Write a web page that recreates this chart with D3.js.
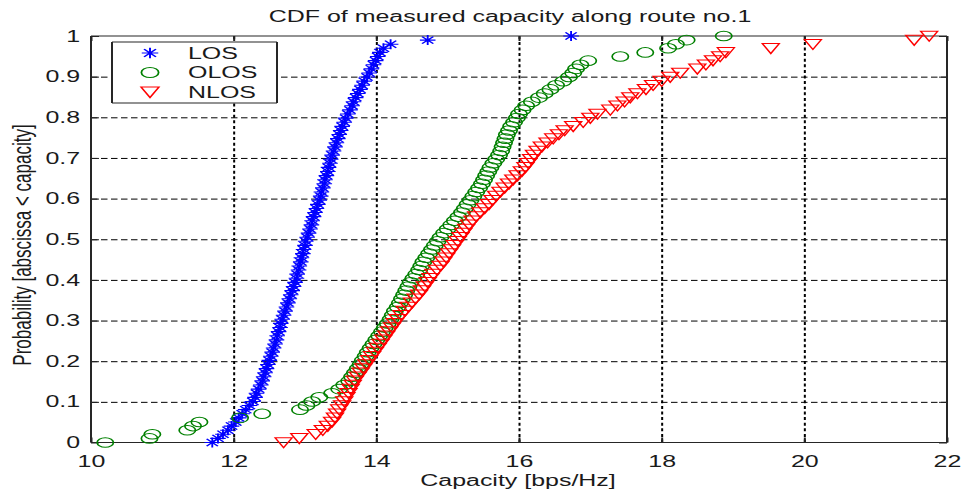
<!DOCTYPE html>
<html>
<head>
<meta charset="utf-8">
<script src="https://cdn.jsdelivr.net/npm/d3@7"></script>
<style>
  html, body { margin: 0; padding: 0; background: #fff; }
  svg { display: block; }
  text { font-family: "Liberation Sans", Arial, Helvetica, sans-serif; fill: #1a1a1a; }
</style>
</head>
<body>
<svg id="chart" width="961" height="493"></svg>
<script>
// ---------- data (capacity values in bps/Hz, sorted; CDF rank gives probability) ----------
const seriesNames = ["LOS", "OLOS", "NLOS"];

const losCapacity = [
  11.70, 11.78, 11.85, 11.92, 11.97, 12.03, 12.07, 12.12, 12.17, 12.22,
  12.27, 12.30, 12.32, 12.35, 12.38, 12.40, 12.42, 12.44, 12.46, 12.48,
  12.50, 12.52, 12.54, 12.56, 12.58, 12.60, 12.61, 12.63, 12.65, 12.66,
  12.68, 12.70, 12.72, 12.74, 12.76, 12.78, 12.80, 12.82, 12.84, 12.86,
  12.88, 12.89, 12.91, 12.92, 12.94, 12.95, 12.97, 12.98, 13.00, 13.01,
  13.03, 13.05, 13.07, 13.09, 13.10, 13.12, 13.14, 13.16, 13.18, 13.20,
  13.22, 13.23, 13.25, 13.27, 13.28, 13.30, 13.32, 13.33, 13.35, 13.36,
  13.38, 13.40, 13.42, 13.44, 13.46, 13.48, 13.50, 13.52, 13.55, 13.57,
  13.60, 13.63, 13.66, 13.68, 13.71, 13.74, 13.77, 13.80, 13.83, 13.87,
  13.90, 13.93, 13.96, 13.99, 14.02, 14.05, 14.10, 14.20, 14.72, 16.73
];

const olosCapacity = [
  10.20, 10.82, 10.86, 11.35, 11.43, 11.52, 12.09, 12.40, 12.93, 13.02,
  13.10, 13.20, 13.38, 13.48, 13.55, 13.62, 13.66, 13.70, 13.74, 13.78,
  13.81, 13.85, 13.88, 13.92, 13.96, 14.00, 14.04, 14.08, 14.12, 14.16,
  14.20, 14.23, 14.26, 14.30, 14.33, 14.36, 14.39, 14.42, 14.45, 14.48,
  14.52, 14.56, 14.60, 14.63, 14.66, 14.70, 14.74, 14.78, 14.82, 14.86,
  14.90, 14.95, 15.00, 15.05, 15.10, 15.15, 15.20, 15.24, 15.28, 15.32,
  15.36, 15.40, 15.44, 15.48, 15.51, 15.54, 15.57, 15.60, 15.64, 15.68,
  15.72, 15.75, 15.77, 15.79, 15.81, 15.83, 15.86, 15.89, 15.93, 15.97,
  16.00, 16.05, 16.10, 16.18, 16.28, 16.36, 16.44, 16.52, 16.62, 16.70,
  16.76, 16.80, 16.86, 16.97, 17.42, 17.77, 18.09, 18.20, 18.35, 18.87
];

const nlosCapacity = [
  12.70, 12.92, 13.15, 13.25, 13.32, 13.38, 13.42, 13.45, 13.48, 13.52,
  13.55, 13.58, 13.61, 13.64, 13.67, 13.70, 13.74, 13.78, 13.82, 13.86,
  13.90, 13.94, 13.98, 14.02, 14.06, 14.10, 14.14, 14.18, 14.22, 14.26,
  14.30, 14.35, 14.40, 14.45, 14.50, 14.55, 14.60, 14.64, 14.68, 14.72,
  14.76, 14.80, 14.85, 14.90, 14.94, 14.98, 15.02, 15.06, 15.10, 15.14,
  15.18, 15.22, 15.26, 15.30, 15.35, 15.40, 15.46, 15.52, 15.58, 15.63,
  15.68, 15.74, 15.80, 15.86, 15.92, 15.98, 16.04, 16.09, 16.13, 16.17,
  16.21, 16.26, 16.32, 16.40, 16.48, 16.56, 16.64, 16.76, 16.90, 17.00,
  17.10, 17.28, 17.38, 17.48, 17.56, 17.66, 17.78, 17.88, 18.00, 18.12,
  18.26, 18.50, 18.62, 18.72, 18.82, 18.90, 19.53, 20.12, 21.54, 21.75
];

const xTickValues = [10, 12, 14, 16, 18, 20, 22];
const yTickValues = [0, 0.1, 0.2, 0.3, 0.4, 0.5, 0.6, 0.7, 0.8, 0.9, 1];
const yTickLabels = ["0", "0.1", "0.2", "0.3", "0.4", "0.5", "0.6", "0.7", "0.8", "0.9", "1"];

const titleText = "CDF of measured capacity along route no.1";
const xLabelText = "Capacity [bps/Hz]";
const yLabelText = "Probability [abscissa < capacity]";

// ---------- layout ----------
const svg = d3.select("#chart");
const L = 91, R = 947, T = 36, B = 442.5;
const SX = 1.56; // horizontal stretch of the original picture
const x = d3.scaleLinear().domain([10, 22]).range([L, R]);
const y = d3.scaleLinear().domain([0, 1]).range([B, T]);

svg.append("rect").attr("width", 961).attr("height", 493).attr("fill", "#fff");

// ---------- grid ----------
const gridV = svg.append("g").attr("transform", `translate(0,${B})`)
  .call(d3.axisBottom(x).tickValues(xTickValues.slice(1, -1)).tickSize(-(B - T)).tickFormat(""));
gridV.select(".domain").remove();
gridV.selectAll("line").attr("stroke", "#000").attr("stroke-width", 2).attr("stroke-dasharray", "3,2.6");

const gridH = svg.append("g").attr("transform", `translate(${L},0)`)
  .call(d3.axisLeft(y).tickValues(yTickValues.slice(1, -1)).tickSize(-(R - L)).tickFormat(""));
gridH.select(".domain").remove();
gridH.selectAll("line").attr("stroke", "#000").attr("stroke-width", 1).attr("stroke-dasharray", "6.5,3.5");

// ---------- axes ----------
const xAxis = svg.append("g").attr("transform", `translate(0,${B})`)
  .call(d3.axisBottom(x).tickValues(xTickValues).tickSizeInner(-5).tickSizeOuter(0).tickPadding(13).tickFormat(d3.format("d")));
const yAxis = svg.append("g").attr("transform", `translate(${L},0)`)
  .call(d3.axisLeft(y).tickValues(yTickValues).tickSizeInner(-8).tickSizeOuter(0).tickPadding(7)
    .tickFormat((d, i) => yTickLabels[i]));
const xTop = svg.append("g").attr("transform", `translate(0,${T})`)
  .call(d3.axisTop(x).tickValues(xTickValues).tickSizeInner(-5).tickSizeOuter(0).tickFormat(""));
const yRight = svg.append("g").attr("transform", `translate(${R},0)`)
  .call(d3.axisRight(y).tickValues(yTickValues).tickSizeInner(-8).tickSizeOuter(0).tickFormat(""));

[xAxis, yAxis, xTop, yRight].forEach(g => {
  g.select(".domain").remove();
  g.selectAll("line").attr("stroke", "#222");
});
xAxis.selectAll("line").attr("stroke-width", 2);
xTop.selectAll("line").attr("stroke-width", 2);
yAxis.selectAll("line").attr("stroke-width", 1);
yRight.selectAll("line").attr("stroke-width", 1);

[xAxis, yAxis].forEach(g => {
  g.selectAll("text")
    .attr("font-size", 16)
    .attr("fill", "#1a1a1a")
    .style("font-family", '"Liberation Sans", Arial, sans-serif');
});
xAxis.selectAll("text").attr("transform", `scale(${SX},1)`);
yAxis.selectAll("text").attr("transform", `scale(${SX},1)`);

// frame
const frame = svg.append("g").attr("stroke", "#262626").attr("fill", "none");
frame.append("line").attr("x1", L).attr("x2", R).attr("y1", T).attr("y2", T).attr("stroke-width", 1.2);
frame.append("line").attr("x1", L).attr("x2", R).attr("y1", B).attr("y2", B).attr("stroke-width", 1.2);
frame.append("line").attr("x1", L).attr("x2", L).attr("y1", T).attr("y2", B).attr("stroke-width", 2);
frame.append("line").attr("x1", R).attr("x2", R).attr("y1", T).attr("y2", B).attr("stroke-width", 2);

// ---------- markers ----------
const starPath = "M-4.6,0H4.6M0,-5V5M-3.3,-3.6L3.3,3.6M-3.3,3.6L3.3,-3.6";
const circlePath = d3.path(); circlePath.arc(0, 0, 4.8, 0, 2 * Math.PI); circlePath.closePath();
const trianglePath = "M-5,-4.8L5,-4.8L0,5.2Z";

const series = [
  { name: seriesNames[0], values: losCapacity, color: "#0000ff", path: starPath, sw: 1.1 },
  { name: seriesNames[1], values: olosCapacity, color: "#008000", path: circlePath.toString(), sw: 1 },
  { name: seriesNames[2], values: nlosCapacity, color: "#ff0000", path: trianglePath, sw: 1 }
];

series.forEach(s => {
  const n = s.values.length;
  const pts = s.values.map((v, i) => ({ x: v, p: i / (n - 1) }));
  svg.append("g")
    .selectAll("path")
    .data(pts)
    .join("path")
    .attr("d", s.path)
    .attr("fill", "none")
    .attr("stroke", s.color)
    .attr("stroke-width", s.sw)
    .attr("transform", d => `translate(${x(d.x)},${y(d.p)}) scale(${SX * 1.09},1)`);
});

// ---------- legend ----------
const lg = svg.append("g");
lg.append("rect").attr("x", 112).attr("y", 42).attr("width", 165).attr("height", 61)
  .attr("fill", "#fff").attr("stroke", "none");
lg.append("line").attr("x1", 112).attr("x2", 277).attr("y1", 42).attr("y2", 42).attr("stroke", "#262626").attr("stroke-width", 1.2);
lg.append("line").attr("x1", 112).attr("x2", 277).attr("y1", 103).attr("y2", 103).attr("stroke", "#262626").attr("stroke-width", 1.2);
lg.append("line").attr("x1", 112).attr("x2", 112).attr("y1", 42).attr("y2", 103).attr("stroke", "#262626").attr("stroke-width", 2);
lg.append("line").attr("x1", 277).attr("x2", 277).attr("y1", 42).attr("y2", 103).attr("stroke", "#262626").attr("stroke-width", 2);
const rows = [53, 72.5, 92];
series.forEach((s, i) => {
  lg.append("path").attr("d", s.path).attr("fill", "none").attr("stroke", s.color)
    .attr("stroke-width", s.sw)
    .attr("transform", `translate(150,${rows[i]}) scale(${SX * 1.15},1.05)`);
  lg.append("text").attr("transform", `translate(188,${rows[i] + 5.8}) scale(${SX},1)`)
    .attr("font-size", 16).text(s.name);
});

// ---------- title & labels ----------
svg.append("text").attr("transform", `translate(510,22) scale(${SX},1)`)
  .attr("text-anchor", "middle").attr("font-size", 16).text(titleText);
svg.append("text").attr("transform", `translate(518,486) scale(${SX},1)`)
  .attr("text-anchor", "middle").attr("font-size", 16).text(xLabelText);
svg.append("text").attr("transform", `translate(31,245) scale(${SX},1) rotate(-90)`)
  .attr("text-anchor", "middle").attr("font-size", 17).text(yLabelText);
</script>
</body>
</html>
